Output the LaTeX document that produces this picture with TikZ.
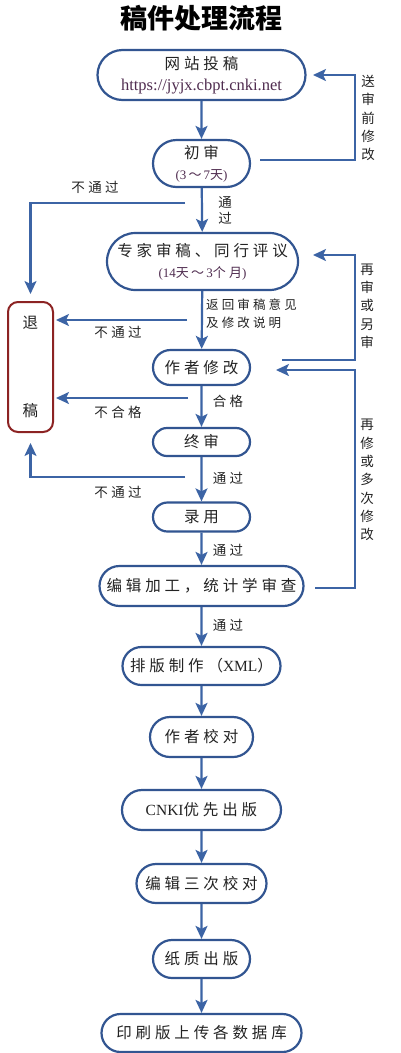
\documentclass[tikz,border=0pt]{standalone}
\usepackage{fontspec}
\setmainfont{Liberation Serif}
\newfontfamily\cjk[LetterSpace=25]{Noto Sans CJK SC}
\newfontfamily\cjktitle{Noto Sans CJK SC}
\usetikzlibrary{shapes.misc,arrows.meta}
\definecolor{lineblue}{RGB}{60,100,165}
\definecolor{boxblue}{RGB}{50,85,145}
\definecolor{tuired}{RGB}{140,35,35}
\definecolor{urlc}{RGB}{80,45,80}
\definecolor{txt}{RGB}{35,35,35}
\begin{document}
\begin{tikzpicture}[x=1pt,y=-1pt,
 box/.style={draw=boxblue,line width=2.2pt,rounded rectangle,fill=white,inner sep=0pt,text=txt,align=center,font=\fontsize{15.5}{21}\selectfont\cjk},
 conn/.style={draw=lineblue,line width=2.2pt},
 arr/.style={conn,-{Stealth[length=13pt,width=12pt,inset=3pt]}},
 lab/.style={font=\fontsize{13.5}{16}\selectfont\cjk,text=txt,inner sep=0pt},
 vlab/.style={lab,align=center,font=\fontsize{13.5}{18.3}\selectfont\cjk}]
\useasboundingbox[fill=white] (0,0) rectangle (400,1053);

\node[font=\fontsize{27}{30}\selectfont\cjktitle\bfseries,text=black] (title) at (201,18) {稿件处理流程};

\node[box,minimum width=208pt,minimum height=50pt] (b1) at (201.5,75) {网站投稿\\{\rmfamily\color{urlc}\fontsize{16.5}{21}\selectfont https://jyjx.cbpt.cnki.net}};
\node[box,minimum width=97pt,minimum height=47pt] (b2) at (201.5,163.5) {初审\\{\color{urlc}\fontsize{13}{21}\selectfont\rmfamily(3\,{\cjk ～}\,7{\cjk 天})}};
\node[box,minimum width=191pt,minimum height=57pt] (b3) at (202.5,261.5) {专家审稿、同行评议\\{\color{urlc}\fontsize{13}{21}\selectfont\rmfamily(14{\cjk 天}\,{\cjk ～}\,3{\cjk 个月})}};
\node[box,minimum width=97pt,minimum height=35pt] (b4) at (201.5,367.5) {作者修改};
\node[box,minimum width=97pt,minimum height=28pt] (b5) at (201.5,442) {终审};
\node[box,minimum width=97pt,minimum height=29pt] (b6) at (201.5,517) {录用};
\node[box,minimum width=204pt,minimum height=40pt] (b7) at (201.5,586) {编辑加工，统计学审查};
\node[box,minimum width=158pt,minimum height=38pt] (b8) at (201.5,666) {排版制作（{\rmfamily XML}）};
\node[box,minimum width=103pt,minimum height=40pt] (b9) at (201.5,737) {作者校对};
\node[box,minimum width=159pt,minimum height=40pt] (b10) at (201.5,810) {{\rmfamily CNKI}优先出版};
\node[box,minimum width=130pt,minimum height=39pt] (b11) at (201.5,883.5) {编辑三次校对};
\node[box,minimum width=97pt,minimum height=38pt] (b12) at (201.5,959) {纸质出版};
\node[box,minimum width=200pt,minimum height=38pt] (b13) at (201.5,1033) {印刷版上传各数据库};

\node[draw=tuired,line width=2pt,rounded corners=10pt,minimum width=45pt,minimum height=130pt,inner sep=0pt,align=center,text=txt,font=\fontsize{15.5}{18}\selectfont\cjk] (tui) at (30.5,367) {退\\[70pt]稿};

% main flow
\draw[arr] (b1) -- (b2);
\draw[arr] (b2) -- (b3);
\draw[arr] (b3) -- (b4);
\draw[arr] (b4) -- (b5);
\draw[arr] (b5) -- (b6);
\draw[arr] (b6) -- (b7);
\draw[arr] (b7) -- (b8);
\draw[arr] (b8) -- (b9);
\draw[arr] (b9) -- (b10);
\draw[arr] (b10) -- (b11);
\draw[arr] (b11) -- (b12);
\draw[arr] (b12) -- (b13);

% rejections
\coordinate (l1) at (185,203);
\coordinate (l2) at (187,320);
\coordinate (l3) at (188,398);
\coordinate (l4) at (185,477);
\draw[arr,shorten >=7pt] (l1) -| (tui.north);
\draw[arr,shorten >=2pt] (l2) -- (l2 -| tui.east);
\draw[arr,shorten >=2pt] (l3) -- (l3 -| tui.east);
\draw[arr,shorten >=10pt] (l4) -| (tui.south);

% feedback loops
\coordinate (r1) at (260,160);
\coordinate (r1c) at (355,75);
\coordinate (r1e) at (313,75);
\draw[arr] (r1) -| (r1c) -- (r1e);
\coordinate (r2) at (282,360);
\coordinate (r2c) at (355,255);
\coordinate (r2e) at (313,255);
\draw[arr] (r2) -| (r2c) -- (r2e);
\coordinate (r3) at (315,588);
\coordinate (r3c) at (355,370);
\coordinate (r3e) at (276,370);
\draw[arr] (r3) -| (r3c) -- (r3e);

% labels
\node[lab] (t1) at (95,187) {不通过};
\node[vlab,font=\fontsize{13.5}{16}\selectfont\cjk] (t2) at (225,210) {通\\过};
\node[lab,anchor=west,align=left,font=\fontsize{12.5}{18}\selectfont\cjk] (t3) at (206,314) {返回审稿意见\\及修改说明};
\node[lab] (t4) at (118,332) {不通过};
\node[lab] (t5) at (228,401) {合格};
\node[lab] (t6) at (118,412) {不合格};
\node[lab] (t7) at (228,478) {通过};
\node[lab] (t8) at (118,492) {不通过};
\node[lab] (t9) at (228,550) {通过};
\node[lab] (t10) at (228,625) {通过};
\node[vlab] (v1) at (368,118) {送\\审\\前\\修\\改};
\node[vlab] (v2) at (367,306) {再\\审\\或\\另\\审};
\node[vlab] (v3) at (367,480) {再\\修\\或\\多\\次\\修\\改};
\end{tikzpicture}
\end{document}
